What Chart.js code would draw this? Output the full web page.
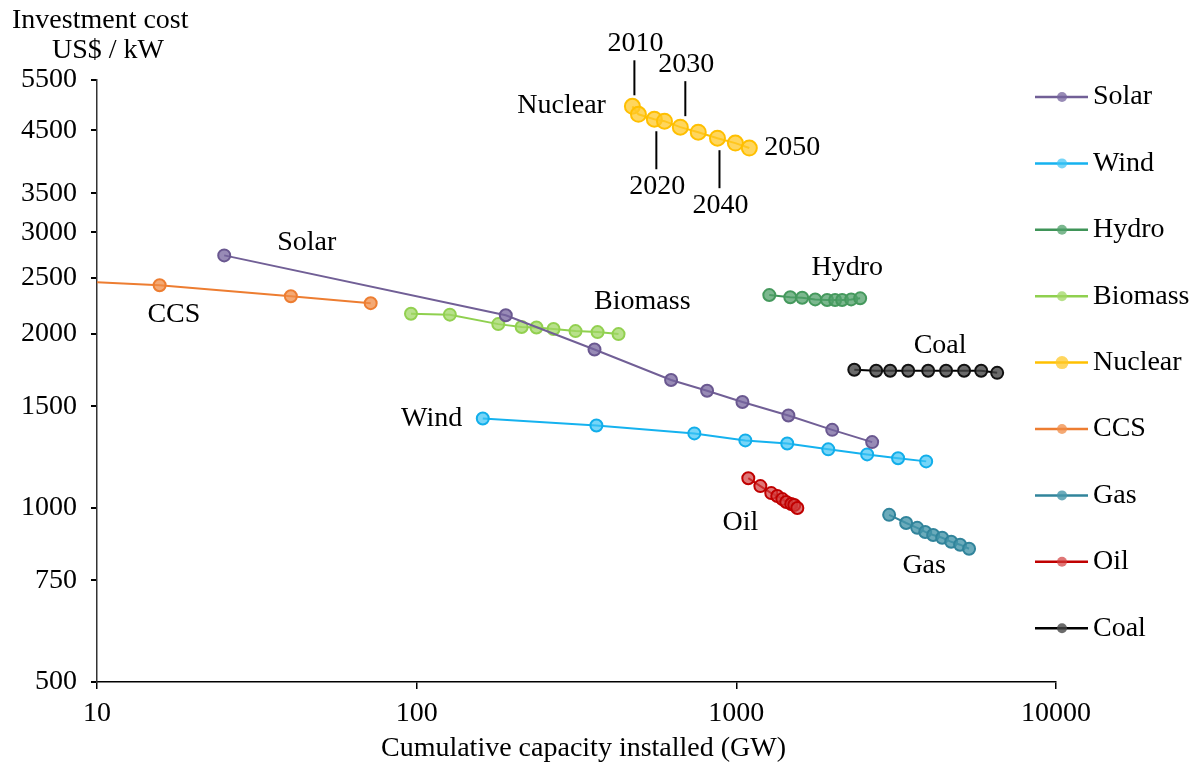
<!DOCTYPE html>
<html>
<head>
<meta charset="utf-8">
<script src="https://cdn.jsdelivr.net/npm/chart.js@4"></script>
<style>
  body { margin: 0; background: #fff; }
  #wrap { width: 1199px; height: 772px; }
</style>
</head>
<body>
<div id="wrap"><canvas id="costChart" width="1199" height="772"></canvas></div>
<script>
// cumulative capacity (GW) and investment cost (US$/kW)
const solarX = [25, 190, 360, 625, 810, 1045, 1455, 1995, 2660];
const solarY = [2735, 2155, 1880, 1665, 1595, 1525, 1445, 1365, 1300];

const windX = [161, 365, 739, 1067, 1443, 1939, 2566, 3206, 3925];
const windY = [1428, 1389, 1346, 1309, 1293, 1263, 1238, 1219, 1204];

const hydroX = [1268, 1475, 1607, 1765, 1923, 2037, 2143, 2287, 2440];
const hydroY = [2335, 2315, 2310, 2295, 2290, 2290, 2290, 2295, 2305];

const biomassX = [96, 127, 180, 213, 237, 268, 314, 368, 428];
const biomassY = [2168, 2160, 2080, 2056, 2052, 2040, 2023, 2015, 1999];

const nuclearX = [473, 494, 554, 596, 668, 760, 873, 993, 1098];
const nuclearY = [4953, 4798, 4704, 4668, 4558, 4468, 4362, 4278, 4194];
const nuclearYears = [2010, 2015, 2020, 2025, 2030, 2035, 2040, 2045, 2050];

const ccsX = [6, 15.7, 40.4, 71.8];
const ccsY = [2490, 2428, 2324, 2261];

const gasX = [3006, 3398, 3680, 3898, 4128, 4405, 4700, 5012, 5346];
const gasY = [973, 942, 924, 909, 898, 888, 874, 864, 850];

const oilX = [1090, 1189, 1286, 1343, 1393, 1433, 1485, 1518, 1552];
const oilY = [1126, 1091, 1061, 1049, 1036, 1024, 1016, 1012, 1000];

const coalX = [2339, 2738, 3029, 3448, 3981, 4530, 5158, 5834, 6546];
const coalY = [1734, 1727, 1727, 1727, 1727, 1727, 1727, 1727, 1713];

const xTicks = [10, 100, 1000, 10000];
const yTicks = [500, 750, 1000, 1500, 2000, 2500, 3000, 3500, 4500, 5500];

// text labels placed next to the series (data coordinates)
const seriesLabels = [
  { text: "Solar", x: 45.3, y: 2878 },
  { text: "CCS", x: 17.4, y: 2164 },
  { text: "Biomass", x: 508, y: 2279 },
  { text: "Hydro", x: 2223, y: 2607 },
  { text: "Coal", x: 4340, y: 1907 },
  { text: "Wind", x: 111.4, y: 1428 },
  { text: "Oil", x: 1029, y: 942 },
  { text: "Gas", x: 3869, y: 795 },
  { text: "Nuclear", x: 284, y: 4972 }
];

const FONT = "'Liberation Serif', 'Times New Roman', serif";

function pts(xs, ys) {
  let out = [];
  for (let i = 0; i < xs.length; i++) out.push({ x: xs[i], y: ys[i] });
  return out;
}

function series(label, xs, ys, line, fill, border, radius) {
  return {
    label,
    data: pts(xs, ys),
    showLine: true,
    borderColor: line,
    borderWidth: 2,
    backgroundColor: fill,
    pointBackgroundColor: fill,
    pointBorderColor: border,
    pointBorderWidth: 2,
    pointRadius: radius,
    pointHoverRadius: radius,
    tension: 0
  };
}

const datasets = [
  series("Solar", solarX, solarY, "#715f96", "rgba(118,100,158,0.75)", "#6a5890", 6),
  series("Wind", windX, windY, "#15b2ef", "rgba(60,195,245,0.7)", "#12aeea", 6),
  series("Hydro", hydroX, hydroY, "#3f9458", "rgba(80,160,105,0.75)", "#45995d", 6),
  series("Biomass", biomassX, biomassY, "#8fd04f", "rgba(160,215,100,0.75)", "#92d050", 6),
  series("Nuclear", nuclearX, nuclearY, "#ffc000", "rgba(255,200,40,0.75)", "#ffbf00", 7.5),
  series("CCS", ccsX, ccsY, "#ed7d31", "rgba(240,140,70,0.75)", "#ed7d31", 6),
  series("Gas", gasX, gasY, "#31849b", "rgba(70,150,170,0.8)", "#31849b", 6),
  series("Oil", oilX, oilY, "#c00000", "rgba(210,60,60,0.7)", "#c00000", 6),
  series("Coal", coalX, coalY, "#000000", "rgba(70,70,70,0.8)", "#111111", 6)
];

const textPlugin = {
  id: "texts",
  afterDatasetsDraw(chart) {
    const ctx = chart.ctx;
    const xs = chart.scales.x;
    const ys = chart.scales.y;
    const area = chart.chartArea;
    ctx.save();
    ctx.fillStyle = "#000";
    ctx.font = "28px " + FONT;
    ctx.textBaseline = "middle";

    // series names
    ctx.textAlign = "center";
    for (let l of seriesLabels) {
      ctx.fillText(l.text, xs.getPixelForValue(l.x), ys.getPixelForValue(l.y));
    }

    // nuclear year markers
    const meta = chart.getDatasetMeta(4);
    ctx.strokeStyle = "#000";
    ctx.lineWidth = 2;
    nuclearYears.forEach((yr, i) => {
      if (yr % 10 !== 0) return;
      const p = meta.data[i];
      if (yr === 2050) {
        ctx.textAlign = "left";
        ctx.fillText(String(yr), p.x + 15, p.y);
        return;
      }
      const up = (yr === 2010 || yr === 2030);
      const dx = yr === 2030 ? 5 : 2;
      ctx.beginPath();
      if (up) {
        ctx.moveTo(p.x + dx, p.y - 11);
        ctx.lineTo(p.x + dx, p.y - 46);
      } else {
        ctx.moveTo(p.x + dx, p.y + 12);
        ctx.lineTo(p.x + dx, p.y + 50);
      }
      ctx.stroke();
      ctx.textAlign = "center";
      ctx.fillText(String(yr), p.x + dx + 1, up ? p.y - 63 : p.y + 67);
    });

    // axis titles
    ctx.textAlign = "left";
    ctx.fillText("Investment cost", 12, 21);
    ctx.fillText("US$ / kW", 52, 51);
    ctx.textAlign = "center";
    ctx.fillText("Cumulative capacity installed (GW)", (area.left + area.right) / 2 + 7, 749);

    // legend
    const lx = area.right;
    const top = 97;
    const step = 66.4;
    chart.data.datasets.forEach((ds, i) => {
      const y = top + i * step;
      ctx.strokeStyle = ds.borderColor;
      ctx.lineWidth = 2.5;
      ctx.beginPath();
      ctx.moveTo(lx - 21, y);
      ctx.lineTo(lx + 32, y);
      ctx.stroke();
      ctx.beginPath();
      ctx.arc(lx + 6, y, ds.label === "Nuclear" ? 6.5 : 5, 0, Math.PI * 2);
      ctx.fillStyle = ds.pointBackgroundColor;
      ctx.fill();
      ctx.fillStyle = "#000";
      ctx.textAlign = "left";
      ctx.fillText(ds.label, lx + 37, y);
    });
    ctx.restore();
  }
};

const ctx = document.getElementById("costChart");

new Chart(ctx, {
  type: "scatter",
  data: { datasets },
  options: {
    responsive: false,
    animation: false,
    devicePixelRatio: 1,
    layout: { padding: { left: 0, top: 80, right: 143, bottom: 0 } },
    plugins: {
      legend: { display: false },
      tooltip: { enabled: false }
    },
    scales: {
      x: {
        type: "logarithmic",
        min: 10,
        max: 10000,
        afterBuildTicks: (scale) => { scale.ticks = xTicks.map(v => ({ value: v })); },
        afterFit: (scale) => { scale.height = 90; },
        ticks: {
          autoSkip: false,
          maxRotation: 0,
          padding: 8,
          color: "#000",
          font: { family: FONT, size: 28 },
          callback: (v) => String(v)
        },
        grid: { drawOnChartArea: false, drawTicks: true, tickLength: 7, color: "#000", lineWidth: 1.5 },
        border: { color: "#000", width: 1.5 }
      },
      y: {
        type: "logarithmic",
        min: 500,
        max: 5500,
        afterBuildTicks: (scale) => { scale.ticks = yTicks.map(v => ({ value: v })); },
        afterFit: (scale) => { scale.width = 97; },
        ticks: {
          autoSkip: false,
          padding: 14,
          color: "#000",
          font: { family: FONT, size: 28 },
          callback: (v) => String(v)
        },
        grid: { drawOnChartArea: false, drawTicks: true, tickLength: 6, color: "#000", lineWidth: 2 },
        border: { color: "#333", width: 1.5 }
      }
    }
  },
  plugins: [textPlugin]
});
</script>
</body>
</html>
